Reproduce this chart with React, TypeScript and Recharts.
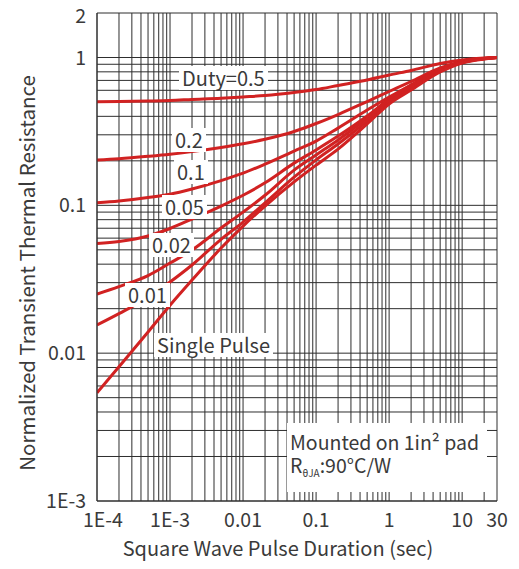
import { CartesianGrid, Line, LineChart, XAxis, YAxis } from "recharts";

// pulse duration (sec)
const pulseTimes = [1e-4, 2e-4, 5e-4, 1e-3, 2e-3, 5e-3, 0.01, 0.02, 0.05, 0.1, 0.2, 0.5, 1, 2, 5, 10, 20, 30];

// normalized transient thermal resistance, one list per duty cycle
const duty05 = [0.502, 0.504, 0.508, 0.512, 0.52, 0.53, 0.541, 0.553, 0.58, 0.607, 0.647, 0.704, 0.761, 0.817, 0.911, 0.962, 0.992, 1.0];
const duty02 = [0.2025, 0.2066, 0.2145, 0.2216, 0.2308, 0.246, 0.2607, 0.2796, 0.3157, 0.3577, 0.4115, 0.5038, 0.5888, 0.6881, 0.849, 0.94, 0.986, 1.0];
const duty01 = [0.104, 0.107, 0.113, 0.119, 0.129, 0.147, 0.165, 0.19, 0.233, 0.272, 0.333, 0.441, 0.54, 0.652, 0.823, 0.925, 0.985, 1.0];
const duty005 = [0.0551, 0.0569, 0.062, 0.0697, 0.0808, 0.0989, 0.117, 0.142, 0.193, 0.237, 0.294, 0.402, 0.524, 0.652, 0.829, 0.932, 0.985, 1.0];
const duty002 = [0.0251, 0.0282, 0.0335, 0.0407, 0.0498, 0.0702, 0.09, 0.117, 0.173, 0.219, 0.277, 0.39, 0.516, 0.641, 0.823, 0.932, 0.983, 1.0];
const duty001 = [0.0155, 0.0185, 0.0238, 0.0303, 0.0395, 0.0589, 0.0771, 0.104, 0.155, 0.203, 0.26, 0.372, 0.5, 0.622, 0.81, 0.925, 0.98, 1.0];
const singlePulse = [0.0054, 0.0081, 0.0139, 0.0211, 0.0312, 0.0514, 0.0724, 0.0989, 0.144, 0.187, 0.24, 0.355, 0.485, 0.603, 0.798, 0.918, 0.977, 1.0];

const xMajor = [1e-4, 1e-3, 0.01, 0.1, 1, 10, 30];
const xMajorLabels = ["1E-4", "1E-3", "0.01", "0.1", "1", "10", "30"];
const yMajor = [1e-3, 0.01, 0.1, 1, 2];
const yMajorLabels = ["1E-3", "0.01", "0.1", "1", "2"];

const series = [
  { key: "d05", values: duty05 },
  { key: "d02", values: duty02 },
  { key: "d01", values: duty01 },
  { key: "d005", values: duty005 },
  { key: "d002", values: duty002 },
  { key: "d001", values: duty001 },
  { key: "single", values: singlePulse },
];

const rows = pulseTimes.map((t, i) => {
  const row: Record<string, number> = { t };
  series.forEach((s) => (row[s.key] = s.values[i]));
  return row;
});

// log grid: 1..9 per decade
const logTicks = (from: number, decades: number, extra: number[]) => {
  const out: number[] = [];
  for (let d = 0; d < decades; d++) {
    for (let m = 1; m <= 9; m++) out.push(Number((m * from * Math.pow(10, d)).toPrecision(3)));
  }
  return out.concat(extra);
};
const xTicks = logTicks(1e-4, 5, [10, 20, 30]);
const yTicks = logTicks(1e-3, 3, [1, 2]);

const same = (a: number, b: number) => Math.abs(Math.log10(a / b)) < 1e-6;
const labelFor = (v: number, majors: number[], labels: string[]) => {
  const i = majors.findIndex((m) => same(m, v));
  return i < 0 ? "" : labels[i];
};

const FONT = '"Noto Sans CJK SC", "Noto Sans", sans-serif';
const TEXT = "#3a3a3a";
const RED = "#d12222";
const GRID = "#2e2e2e";

const XTick = (p: any) => {
  const label = labelFor(p.payload.value, xMajor, xMajorLabels);
  if (!label) return <g />;
  const dx = label === "1E-4" ? 6 : 0;
  return (
    <text x={p.x + dx} y={p.y} dy="0.71em" textAnchor="middle" fill={TEXT} fontSize={19.5} fontFamily={FONT}>
      {label}
    </text>
  );
};

const YTick = (p: any) => {
  const label = labelFor(p.payload.value, yMajor, yMajorLabels);
  if (!label) return <g />;
  // top label sits a little lower so it stays inside the frame
  const shift = label === "2" ? 3 : 0;
  return (
    <text x={p.x} y={p.y + shift} dy="0.36em" textAnchor="end" fill={TEXT} fontSize={19.5} fontFamily={FONT}>
      {label}
    </text>
  );
};

const tag = (left: number, top: number, text: string) => (
  <div
    style={{
      position: "absolute",
      left,
      top,
      background: "#fff",
      padding: "0 3px",
      fontSize: 20,
      lineHeight: "24px",
      color: TEXT,
      fontFamily: FONT,
      whiteSpace: "nowrap",
    }}
  >
    {text}
  </div>
);

export default function App() {
  return (
    <div style={{ position: "relative", width: 503, height: 553, fontFamily: FONT }}>
      <style>{"svg.recharts-surface { overflow: visible; }"}</style>
      <LineChart width={503} height={553} data={rows} margin={{ top: 5, right: 14, bottom: 0, left: 0 }}>
        <CartesianGrid stroke={GRID} strokeWidth={1} />
        <XAxis
          dataKey="t"
          type="number"
          scale="log"
          domain={[1e-4, 30]}
          allowDataOverflow
          ticks={xTicks}
          interval={0}
          tick={XTick}
          tickSize={0}
          tickMargin={12}
          tickLine={false}
          axisLine={{ stroke: GRID }}
          height={60}
        />
        <YAxis
          type="number"
          scale="log"
          domain={[1e-3, 2]}
          allowDataOverflow
          ticks={yTicks}
          interval={0}
          tick={YTick}
          tickSize={0}
          tickMargin={11}
          tickLine={false}
          axisLine={{ stroke: GRID }}
          width={89}
        />
        {series.map((s) => (
          <Line
            key={s.key}
            dataKey={s.key}
            type="monotone"
            stroke={RED}
            strokeWidth={3}
            dot={false}
            isAnimationActive={false}
          />
        ))}
      </LineChart>

      {/* curve labels */}
      {tag(171, 58, "Duty=0.5")}
      {tag(164, 120, "0.2")}
      {tag(166, 152, "0.1")}
      {tag(154, 187, "0.05")}
      {tag(141, 225, "0.02")}
      {tag(117, 275, "0.01")}
      {tag(146, 325, "Single Pulse")}

      <div
        style={{
          position: "absolute",
          left: 279,
          top: 415,
          width: 200,
          height: 69,
          background: "#fff",
          boxSizing: "border-box",
          padding: "7px 0 0 3px",
          fontSize: 19.5,
          color: TEXT,
          fontFamily: FONT,
          whiteSpace: "nowrap",
        }}
      >
        <div style={{ height: 23, lineHeight: "23px" }}>Mounted on 1in² pad</div>
        <div style={{ height: 23, lineHeight: "23px" }}>
          R<span style={{ fontSize: 10, lineHeight: "10px", verticalAlign: -4 }}>θJA</span>:90°C/W
        </div>
      </div>

      <div style={{ position: "absolute", left: 18, top: 265, width: 0, height: 0 }}>
        <div
          style={{
            position: "absolute",
            transform: "translate(-50%, -50%) rotate(-90deg)",
            fontSize: 20.5,
            color: TEXT,
            whiteSpace: "nowrap",
            lineHeight: "22px",
          }}
        >
          Normalized Transient Thermal Resistance
        </div>
      </div>

      <div
        style={{
          position: "absolute",
          left: 0,
          width: 540,
          top: 528,
          textAlign: "center",
          fontSize: 20,
          lineHeight: "24px",
          color: TEXT,
          whiteSpace: "nowrap",
        }}
      >
        Square Wave Pulse Duration (sec)
      </div>
    </div>
  );
}
